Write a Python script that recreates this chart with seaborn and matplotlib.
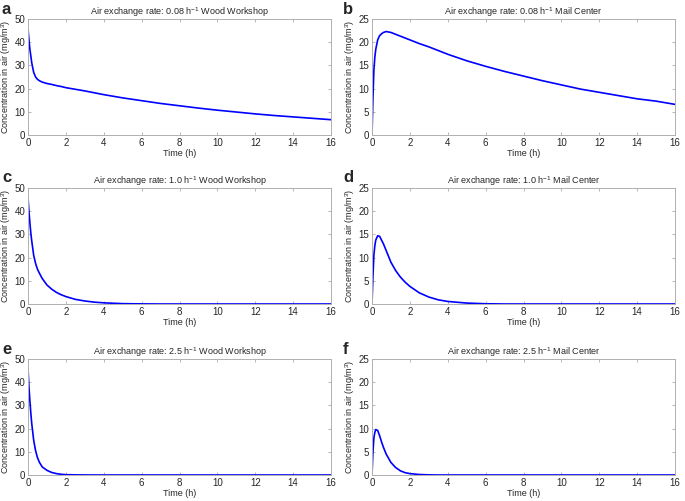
import matplotlib
matplotlib.use("Agg")
import matplotlib.pyplot as plt
import seaborn as sns
import pandas as pd

# time points (h) shared by all curves
time_h = [0, 0.05, 0.1, 0.15, 0.2, 0.3, 0.4, 0.5, 0.6, 0.75, 1, 1.25, 1.5,
          1.75, 2, 2.5, 3, 3.5, 4, 5, 6, 7, 8, 9, 10, 11, 12, 13, 14, 15, 16]

# concentrations in air (mg/m3)
wood_008 = [46, 41, 37, 34, 31, 27, 25, 24, 23.4, 22.8, 22.2, 21.8, 21.3,
            20.9, 20.4, 19.7, 19, 18.2, 17.4, 16, 14.8, 13.6, 12.6, 11.6,
            10.7, 9.9, 9.1, 8.4, 7.8, 7.2, 6.6]
mail_008 = [0, 8, 14, 16.8, 18.5, 20.5, 21.4, 21.8, 22.1, 22.3, 22.1, 21.7,
            21.3, 20.9, 20.5, 19.7, 19, 18.2, 17.4, 16, 14.8, 13.7, 12.7,
            11.7, 10.8, 9.9, 9.2, 8.5, 7.8, 7.3, 6.6]
wood_10 = [46, 40, 35, 30.5, 27, 21, 17.5, 15, 13.3, 11, 8.2, 6.4, 5, 4,
           3.2, 2, 1.3, 0.8, 0.5, 0.15, 0.05, 0, 0, 0, 0, 0, 0, 0, 0, 0, 0]
mail_10 = [0, 6, 10.5, 12.6, 13.8, 14.7, 14.6, 13.8, 13, 11.5, 9, 7.2, 5.8,
           4.7, 3.8, 2.4, 1.5, 0.9, 0.55, 0.2, 0.05, 0, 0, 0, 0, 0, 0, 0, 0,
           0, 0]
wood_25 = [46, 38, 32, 26.5, 22, 15, 10.5, 7.5, 5.5, 3.5, 2, 1.1, 0.6, 0.3,
           0.15, 0.05, 0.02, 0, 0, 0, 0, 0, 0, 0, 0, 0, 0, 0, 0, 0, 0]
mail_25 = [0, 5, 8, 9.2, 9.8, 9.6, 8.5, 7.2, 6, 4.5, 2.7, 1.6, 0.9, 0.5,
           0.3, 0.1, 0.03, 0, 0, 0, 0, 0, 0, 0, 0, 0, 0, 0, 0, 0, 0]

rates = ["0.08", "0.08", "1.0", "1.0", "2.5", "2.5"]
sites = ["Wood Workshop", "Mail Center"] * 3
letters = ["a", "b", "c", "d", "e", "f"]
ylims = [50, 25] * 3
yticks = [[0, 10, 20, 30, 40, 50], [0, 5, 10, 15, 20, 25]] * 3
series = [wood_008, mail_008, wood_10, mail_10, wood_25, mail_25]

sns.set_style("ticks")
plt.rcParams["font.family"] = ["Liberation Sans", "DejaVu Sans"]
plt.rcParams["mathtext.fontset"] = "custom"
plt.rcParams["mathtext.rm"] = "Liberation Sans"
plt.rcParams["mathtext.it"] = "Liberation Sans"

W, H = 685, 501
fig = plt.figure(figsize=(W / 100, H / 100), dpi=100)

lefts = [28, 372]
tops = [19, 188, 359]
aw, ah = 303, 116

for i in range(6):
    col, row = i % 2, i // 2
    ax = fig.add_axes([lefts[col] / W, 1 - (tops[row] + ah) / H, aw / W, ah / H])
    df = pd.DataFrame({"t": time_h, "c": series[i]})
    sns.lineplot(data=df, x="t", y="c", ax=ax, color="#0000ff", lw=1.2)
    ax.set_xlim(0, 16)
    ax.set_ylim(0, ylims[i])
    ax.set_xticks(range(0, 17, 2))
    ax.set_yticks(yticks[i])
    ax.tick_params(direction="in", top=True, right=True, length=2.5,
                   width=0.5, color="#999999", labelsize=7, pad=2)
    for s in ax.spines.values():
        s.set_color("#b0b0b0")
        s.set_linewidth(0.7)
    ax.set_xlabel("Time (h)", fontsize=6.5, labelpad=1)
    ax.set_ylabel("Concentration in air (mg/m$^3$)", fontsize=6.5, labelpad=1)
    ax.set_title("Air exchange rate: %s h$^{-1}$ %s" % (rates[i], sites[i]),
                 fontsize=6.5, pad=3)
    lx = 2 if col == 0 else 343
    ly = tops[row] - 9 if row != 1 else tops[row] - 11
    fig.text(lx / W, 1 - ly / H, letters[i], fontsize=12, fontweight="bold",
             va="center", ha="left")

fig.savefig("out.png", dpi=100)
